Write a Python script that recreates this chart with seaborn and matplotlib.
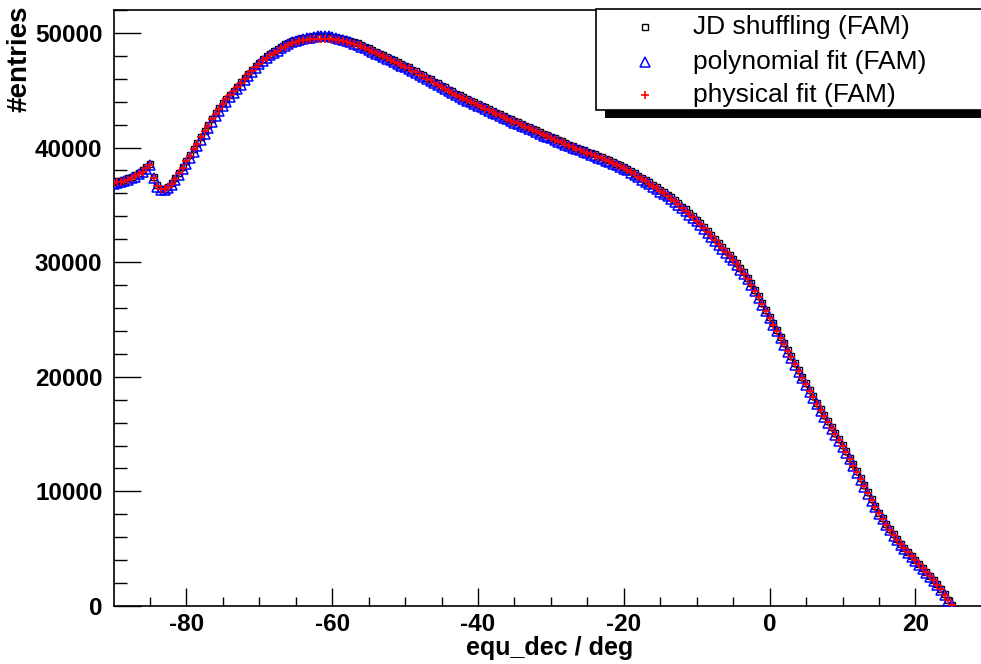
import numpy as np
import pandas as pd
import matplotlib
matplotlib.use("Agg")
import matplotlib.pyplot as plt
from matplotlib.patches import Rectangle
from matplotlib.lines import Line2D
import seaborn as sns

# declination bin centres (deg), 0.5 deg bins from -90 to 25
dec_deg = [-90 + 0.5 * i for i in range(231)]

# JD shuffling (FAM)
jd_counts = [
    37000, 37050, 37100, 37200, 37300, 37450, 37600, 37800, 38000, 38300,
    38550, 37400, 36700, 36400, 36400, 36600, 36900, 37300, 37800, 38300,
    38850, 39350, 39900, 40400, 40950, 41450, 41950, 42500, 43000, 43450,
    43850, 44250, 44600, 44950, 45300, 45700, 46050, 46450, 46800, 47100,
    47400, 47700, 47950, 48200, 48400, 48600, 48800, 49000, 49150, 49300,
    49400, 49500, 49550, 49600, 49650, 49700, 49700, 49700, 49700, 49700,
    49650, 49600, 49550, 49500, 49400, 49300, 49200, 49100, 48950, 48800,
    48650, 48500, 48350, 48200, 48050, 47900, 47750, 47600, 47450, 47300,
    47150, 47000, 46800, 46650, 46450, 46300, 46100, 45950, 45750, 45600,
    45400, 45250, 45050, 44900, 44700, 44550, 44400, 44250, 44100, 43950,
    43800, 43650, 43500, 43350, 43200, 43050, 42900, 42750, 42600, 42450,
    42300, 42200, 42050, 41900, 41800, 41650, 41500, 41350, 41200, 41100,
    40950, 40800, 40650, 40550, 40400, 40250, 40150, 40000, 39900, 39750,
    39650, 39500, 39400, 39250, 39150, 39000, 38900, 38750, 38600, 38450,
    38300, 38150, 37950, 37750, 37550, 37350, 37150, 36950, 36750, 36550,
    36300, 36100, 35900, 35650, 35400, 35150, 34850, 34600, 34300, 34000,
    33700, 33400, 33050, 32700, 32350, 32000, 31650, 31300, 30950, 30600,
    30300, 29900, 29500, 29100, 28650, 28150, 27600, 27050, 26450, 25850,
    25250, 24650, 24100, 23500, 22950, 22350, 21800, 21200, 20600, 20000,
    19450, 18850, 18300, 17750, 17200, 16650, 16150, 15600, 15100, 14550,
    14050, 13500, 12950, 12350, 11750, 11150, 10550, 9950, 9350, 8750,
    8150, 7650, 7150, 6700, 6250, 5850, 5450, 5100, 4750, 4400,
    4050, 3700, 3350, 3000, 2650, 2300, 1900, 1500, 1050, 550,
    100,
]

# polynomial fit (FAM)
poly_counts = [
    36850, 36900, 36950, 37050, 37150, 37300, 37450, 37650, 37850, 38150,
    38450, 37300, 36600, 36300, 36300, 36450, 36750, 37150, 37600, 38100,
    38600, 39100, 39650, 40150, 40700, 41200, 41700, 42250, 42750, 43200,
    43600, 44000, 44400, 44750, 45100, 45500, 45850, 46250, 46600, 46900,
    47250, 47550, 47800, 48050, 48250, 48450, 48650, 48850, 49050, 49200,
    49300, 49400, 49500, 49550, 49600, 49650, 49700, 49700, 49700, 49700,
    49650, 49550, 49450, 49400, 49300, 49200, 49050, 48950, 48800, 48650,
    48500, 48350, 48200, 48050, 47900, 47750, 47600, 47450, 47300, 47150,
    47000, 46850, 46650, 46500, 46300, 46150, 45950, 45800, 45600, 45450,
    45250, 45100, 44900, 44750, 44550, 44400, 44250, 44100, 43950, 43800,
    43650, 43500, 43350, 43200, 43050, 42900, 42750, 42600, 42450, 42300,
    42150, 42050, 41900, 41750, 41650, 41500, 41350, 41200, 41050, 40950,
    40800, 40650, 40500, 40400, 40250, 40100, 40000, 39850, 39750, 39600,
    39500, 39350, 39250, 39100, 39000, 38850, 38750, 38600, 38450, 38300,
    38150, 38000, 37800, 37600, 37400, 37200, 37000, 36800, 36600, 36400,
    36150, 35950, 35750, 35500, 35250, 35000, 34700, 34450, 34150, 33850,
    33550, 33250, 32900, 32550, 32200, 31850, 31500, 31150, 30800, 30450,
    30150, 29750, 29350, 28950, 28500, 28000, 27450, 26900, 26300, 25700,
    25100, 24500, 23950, 23350, 22800, 22200, 21650, 21050, 20450, 19850,
    19300, 18700, 18150, 17600, 17050, 16500, 16000, 15450, 14950, 14400,
    13900, 13350, 12800, 12200, 11600, 11000, 10400, 9800, 9200, 8600,
    8050, 7550, 7050, 6600, 6150, 5750, 5350, 5000, 4650, 4300,
    3950, 3600, 3250, 2900, 2550, 2200, 1800, 1400, 950, 450,
    50,
]

# physical fit (FAM)
phys_counts = [
    36900, 36950, 37000, 37100, 37200, 37350, 37500, 37700, 37900, 38200,
    38450, 37350, 36650, 36350, 36350, 36550, 36850, 37250, 37750, 38250,
    38800, 39300, 39850, 40350, 40900, 41400, 41900, 42450, 42950, 43400,
    43800, 44200, 44550, 44900, 45250, 45650, 46000, 46400, 46700, 47000,
    47300, 47600, 47850, 48050, 48250, 48450, 48650, 48800, 48950, 49100,
    49200, 49300, 49350, 49400, 49450, 49500, 49500, 49500, 49500, 49500,
    49450, 49400, 49350, 49300, 49250, 49150, 49050, 48950, 48850, 48700,
    48550, 48400, 48250, 48100, 47950, 47800, 47650, 47500, 47350, 47200,
    47050, 46900, 46700, 46550, 46350, 46200, 46000, 45850, 45650, 45500,
    45300, 45150, 44950, 44800, 44600, 44450, 44300, 44150, 44000, 43850,
    43700, 43550, 43400, 43250, 43100, 42950, 42800, 42650, 42500, 42350,
    42200, 42100, 41950, 41800, 41700, 41550, 41400, 41250, 41100, 41000,
    40850, 40700, 40550, 40450, 40300, 40150, 40050, 39900, 39800, 39650,
    39550, 39400, 39300, 39150, 39050, 38900, 38800, 38650, 38500, 38350,
    38200, 38050, 37850, 37650, 37450, 37250, 37050, 36850, 36650, 36450,
    36200, 36000, 35800, 35550, 35300, 35050, 34750, 34500, 34200, 33900,
    33600, 33300, 32950, 32600, 32250, 31900, 31550, 31200, 30850, 30500,
    30200, 29800, 29400, 29000, 28550, 28050, 27500, 26950, 26350, 25750,
    25150, 24550, 24000, 23400, 22850, 22250, 21700, 21100, 20500, 19900,
    19350, 18750, 18200, 17650, 17100, 16550, 16050, 15500, 15000, 14450,
    13950, 13400, 12850, 12250, 11650, 11050, 10450, 9850, 9250, 8650,
    8100, 7600, 7100, 6650, 6200, 5800, 5400, 5050, 4700, 4350,
    4000, 3650, 3300, 2950, 2600, 2250, 1850, 1450, 1000, 500,
    50,
]

series_labels = ["JD shuffling (FAM)", "polynomial fit (FAM)", "physical fit (FAM)"]
x_major_ticks = [-80, -60, -40, -20, 0, 20]
y_major_ticks = [0, 10000, 20000, 30000, 40000, 50000]

sns.set_theme(style="white")
plt.rcParams["font.family"] = ["Liberation Sans", "DejaVu Sans"]
plt.rcParams["font.weight"] = "bold"
plt.rcParams["axes.unicode_minus"] = False

W, H = 981, 664
fig = plt.figure(figsize=(W / 100, H / 100), dpi=100)
fig.patch.set_facecolor("white")
ax_left, ax_right, ax_top, ax_bottom = 113.5, 990, 10, 606
ax = fig.add_axes([ax_left / W, 1 - ax_bottom / H, (ax_right - ax_left) / W, (ax_bottom - ax_top) / H])
ax.set_facecolor("white")

df = pd.DataFrame({"dec": dec_deg, "jd": jd_counts, "poly": poly_counts, "phys": phys_counts})

sq_style = dict(marker="s", markersize=5, markerfacecolor="none", markeredgecolor="black", markeredgewidth=1.0)
tri_style = dict(marker="^", markersize=7.5, markerfacecolor="none", markeredgecolor="#0000ff", markeredgewidth=1.1)
plus_style = dict(marker="+", markersize=6, markeredgecolor="#ff0000", markeredgewidth=1.2)

sns.lineplot(data=df, x="dec", y="jd", ax=ax, linestyle="none", sort=False,
             estimator=None, zorder=3, **sq_style)
sns.lineplot(data=df, x="dec", y="poly", ax=ax, linestyle="none", sort=False,
             estimator=None, zorder=4, **tri_style)
sns.lineplot(data=df, x="dec", y="phys", ax=ax, linestyle="none", sort=False,
             estimator=None, zorder=5, color="#ff0000", **plus_style)

px_per_deg = 7.29
ax.set_xlim(-90, -90 + (ax_right - ax_left) / px_per_deg)
ax.set_ylim(0, 52000)
ax.set_xticks(x_major_ticks)
ax.set_xticks(np.arange(-85, 29, 5), minor=True)
ax.set_yticks(y_major_ticks)
ax.set_yticks(np.arange(0, 52001, 2000), minor=True)
ax.tick_params(axis="both", which="both", direction="in", color="black", width=1.0,
               labelsize=17.5, labelcolor="black",
               bottom=True, left=True, top=False, right=False)
ax.tick_params(axis="x", which="major", length=13, pad=5)
ax.tick_params(axis="x", which="minor", length=6.5)
ax.tick_params(axis="y", which="major", length=19.5, pad=8)
ax.tick_params(axis="y", which="minor", length=9.5)
for lab in ax.get_xticklabels() + ax.get_yticklabels():
    lab.set_fontweight("bold")
ax.set_xlabel("")
ax.set_ylabel("")
for side in ["left", "bottom", "top", "right"]:
    ax.spines[side].set_visible(True)
    ax.spines[side].set_color("black")
    ax.spines[side].set_linewidth(1.2)

fig.text(550 / W, 1 - 655 / H, "equ_dec / deg", ha="center", va="baseline",
         fontsize=18, fontweight="bold", color="black")
fig.text(20 / W, 1 - 5 / H, "#entries", ha="center", va="top", rotation=90,
         fontsize=20, fontweight="bold", color="black")

# legend box with shadow (ROOT style)
def px_rect(x0, y0, x1, y1, **kw):
    return Rectangle((x0 / W, 1 - y1 / H), (x1 - x0) / W, (y1 - y0) / H,
                     transform=fig.transFigure, **kw)

fig.add_artist(px_rect(605, 18, 1000, 118, facecolor="black", edgecolor="none", zorder=10))
fig.add_artist(px_rect(596, 9, 995, 110, facecolor="white", edgecolor="black",
                       linewidth=1.2, zorder=11))
leg_y = [27, 62, 95]
for yy, lab, st in zip(leg_y, series_labels, [sq_style, tri_style, plus_style]):
    fig.add_artist(Line2D([645 / W], [1 - yy / H], linestyle="none",
                          transform=fig.transFigure, zorder=12, **st))
    fig.text(693 / W, 1 - yy / H, lab, ha="left", va="center", fontsize=19,
             fontweight="normal", color="black", zorder=12)

fig.savefig("out.png", dpi=100)
